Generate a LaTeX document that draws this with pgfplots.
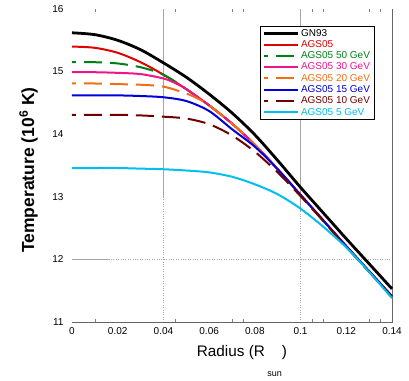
\documentclass[border=0pt]{standalone}
\usepackage{fontspec}
\setmainfont{Liberation Sans}
\usepackage{pgfplots}
\pgfplotsset{compat=1.18}

\definecolor{cGreen}{RGB}{0,128,20}
\definecolor{cPink}{RGB}{240,20,140}
\definecolor{cOrange}{RGB}{240,110,20}
\definecolor{cBlue}{RGB}{0,0,220}
\definecolor{cMaroon}{RGB}{110,0,0}
\definecolor{cCyan}{RGB}{0,190,240}
\definecolor{cRed}{RGB}{225,0,0}

\begin{document}
\begin{tikzpicture}
\begin{axis}[
  scale only axis,
  width=320pt, height=313pt,
  xmin=0, xmax=0.14, ymin=11, ymax=16,
  axis line style={draw=none},
  xtick={0,0.02,0.04,0.06,0.08,0.1,0.12,0.14},
  xticklabels={0,0.02,0.04,0.06,0.08,0.1,0.12,0.14},
  scaled x ticks=false,
  ytick={11,12,13,14,15,16},
  major tick length=0pt,
  extra x ticks={0.01,0.045,0.07,0.075,0.105,0.11,0.13,0.135},
  extra x tick style={xticklabel={}, major tick length=3pt, tick style={gray, thin}},
  tick label style={font=\fontsize{10}{12}\selectfont},
  /pgf/number format/assume math mode=true,
  xticklabel style={yshift=-2pt},
  yticklabel style={xshift=-5pt},
  xlabel={Radius (R\,\raisebox{-20pt}{\fontsize{9}{9}\selectfont sun})},
  ylabel={\bfseries Temperature (10\textsuperscript{6} K)},
  xlabel style={font=\fontsize{15.3}{17}\selectfont,
    at={([shift={(10pt,-34pt)}]axis description cs:0.5,0)}, anchor=base},
  ylabel style={font=\fontsize{17.5}{19}\selectfont,
    at={([shift={(-43.5pt,-4.5pt)}]axis description cs:0,0.5)}, anchor=center},
  legend cell align=left,
  legend style={at={(rel axis cs:0.5875,0.946)}, anchor=north west,
    draw=black, font=\fontsize{10}{10.5}\selectfont,
    inner xsep=2pt, inner ysep=1pt, row sep=-1.2pt,
    /tikz/every even column/.append style={column sep=0pt}},
  legend image code/.code={\draw[#1] (0pt,0pt) -- (34pt,0pt);},
  clip=false,
]
% grid lines and frame
\draw[gray!70, thin] (axis cs:0.04,13) -- (axis cs:0.04,16);
\draw[gray!70, thin, dotted] (axis cs:0.04,11) -- (axis cs:0.04,13);
\draw[gray!70, thin] (axis cs:0.1,12.75) -- (axis cs:0.1,16);
\draw[gray!70, thin, dotted] (axis cs:0.1,11) -- (axis cs:0.1,12.75);
\draw[gray!70, thin] (axis cs:0,12) -- (axis cs:0.016,12);
\draw[gray!70, thin, dotted] (axis cs:0.016,12) -- (axis cs:0.14,12);
\draw[gray!80!black, thin] (rel axis cs:0,0) -- (rel axis cs:1,0) -- (rel axis cs:1,1);
\coordinate (BL) at (rel axis cs:0,0);

% GN93
\addplot[black, line width=2.8pt, smooth] coordinates {
 (0,15.62) (0.01,15.59) (0.02,15.50) (0.03,15.35) (0.04,15.14) (0.05,14.91)
 (0.06,14.64) (0.07,14.34) (0.08,13.99) (0.09,13.58) (0.10,13.15) (0.11,12.74)
 (0.12,12.33) (0.13,11.93) (0.14,11.53)};
\addlegendentry{GN93}
% AGS05
\addplot[cRed, line width=2pt, smooth] coordinates {
 (0,15.40) (0.01,15.38) (0.02,15.30) (0.03,15.15) (0.04,14.95) (0.05,14.72)
 (0.06,14.46) (0.07,14.17) (0.08,13.83) (0.09,13.44) (0.10,13.03) (0.11,12.62)
 (0.12,12.21) (0.13,11.81) (0.14,11.41)};
\addlegendentry{\textcolor{cRed}{AGS05}}
% AGS05 50 GeV
\addplot[cGreen, line width=2pt, smooth, dash pattern=on 18pt off 8pt, dash phase=14pt] coordinates {
 (0,15.15) (0.01,15.15) (0.02,15.13) (0.03,15.07) (0.04,14.95) (0.05,14.72)
 (0.06,14.46) (0.07,14.17) (0.08,13.83) (0.09,13.44) (0.10,13.03) (0.11,12.62)
 (0.12,12.21) (0.13,11.81) (0.14,11.41)};
\addlegendentry{\textcolor{cGreen}{AGS05 50 GeV}}
% AGS05 30 GeV
\addplot[cPink, line width=2pt, smooth] coordinates {
 (0,14.99) (0.01,14.99) (0.02,14.98) (0.03,14.96) (0.04,14.89) (0.045,14.82) (0.05,14.72)
 (0.06,14.46) (0.07,14.17) (0.08,13.83) (0.09,13.44) (0.10,13.03) (0.11,12.62)
 (0.12,12.21) (0.13,11.81) (0.14,11.41)};
\addlegendentry{\textcolor{cPink}{AGS05 30 GeV}}
% AGS05 20 GeV
\addplot[cOrange, line width=2pt, smooth, dash pattern=on 18pt off 8pt, dash phase=14pt] coordinates {
 (0,14.81) (0.01,14.81) (0.02,14.80) (0.03,14.79) (0.04,14.76) (0.05,14.65)
 (0.055,14.57) (0.06,14.46) (0.07,14.17) (0.08,13.83) (0.09,13.44) (0.10,13.03) (0.11,12.62)
 (0.12,12.21) (0.13,11.81) (0.14,11.41)};
\addlegendentry{\textcolor{cOrange}{AGS05 20 GeV}}
% AGS05 15 GeV
\addplot[cBlue, line width=2pt, smooth] coordinates {
 (0,14.62) (0.01,14.62) (0.02,14.62) (0.03,14.61) (0.04,14.59) (0.05,14.53)
 (0.06,14.37) (0.07,14.08) (0.08,13.80) (0.09,13.44) (0.10,13.03) (0.11,12.62)
 (0.12,12.21) (0.13,11.81) (0.14,11.41)};
\addlegendentry{\textcolor{cBlue}{AGS05 15 GeV}}
% AGS05 10 GeV
\addplot[cMaroon, line width=2pt, smooth, dash pattern=on 18pt off 8pt, dash phase=14pt] coordinates {
 (0,14.31) (0.01,14.31) (0.02,14.31) (0.03,14.30) (0.04,14.28) (0.05,14.25)
 (0.06,14.16) (0.07,13.98) (0.08,13.72) (0.09,13.39) (0.10,13.01) (0.11,12.61)
 (0.12,12.20) (0.13,11.80) (0.14,11.40)};
\addlegendentry{\textcolor{cMaroon}{AGS05 10 GeV}}
% AGS05 5 GeV
\addplot[cCyan, line width=2pt, smooth] coordinates {
 (0,13.46) (0.01,13.46) (0.02,13.46) (0.03,13.45) (0.04,13.44) (0.05,13.42)
 (0.06,13.39) (0.07,13.32) (0.08,13.20) (0.09,13.04) (0.10,12.81) (0.11,12.52)
 (0.12,12.19) (0.13,11.80) (0.14,11.38)};
\addlegendentry{\textcolor{cCyan}{AGS05 5 GeV}}
\end{axis}
\pgfresetboundingbox
\path[use as bounding box] ([shift={(-72pt,-58pt)}]BL) rectangle ([shift={(337pt,322pt)}]BL);
\end{tikzpicture}
\end{document}
